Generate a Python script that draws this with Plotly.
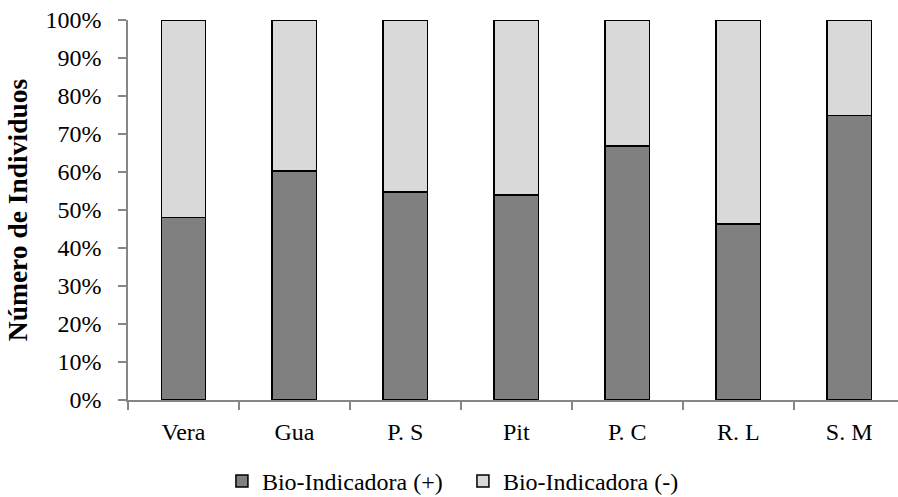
import plotly.graph_objects as go

categories = ["Vera", "Gua", "P. S", "Pit", "P. C", "R. L", "S. M"]
positivos = [48.0, 60.2, 54.8, 53.9, 66.8, 46.3, 74.9]
negativos = [100 - v for v in positivos]
series_names = ["Bio-Indicadora (+)", "Bio-Indicadora (-)"]
y_ticks = [0, 10, 20, 30, 40, 50, 60, 70, 80, 90, 100]
y_tick_labels = [f"{v}%" for v in y_ticks]

FONT = "Liberation Serif, Times New Roman, serif"

fig = go.Figure()
fig.add_trace(go.Bar(x=categories, y=positivos, name=series_names[0],
                     marker=dict(color="#808080", line=dict(color="#000000", width=1.5)),
                     width=0.4))
fig.add_trace(go.Bar(x=categories, y=negativos, name=series_names[1],
                     marker=dict(color="#d9d9d9", line=dict(color="#000000", width=1.5)),
                     width=0.4))

fig.update_layout(
    width=898, height=497,
    barmode="stack",
    plot_bgcolor="white", paper_bgcolor="white",
    margin=dict(l=128, r=0, t=20, b=97, autoexpand=False),
    font=dict(family=FONT, size=24, color="#000000"),
    showlegend=True,
    legend=dict(orientation="h", traceorder="normal",
                x=0.122, xanchor="left", xref="paper",
                y=-0.155, yanchor="top",
                font=dict(family=FONT, size=24, color="#000000"),
                entrywidth=196, entrywidthmode="pixels"),
    xaxis=dict(
        range=[-0.5, 6.44],
        showline=True, linecolor="#868686", linewidth=1.5,
        ticks="outside", tickson="boundaries", ticklen=8, tickcolor="#868686", tickwidth=1.5,
        showgrid=False, zeroline=False,
        ticklabelstandoff=9,
    ),
    yaxis=dict(
        range=[0, 100],
        tickvals=y_ticks, ticktext=y_tick_labels,
        showline=True, linecolor="#868686", linewidth=1.5,
        ticks="outside", ticklen=8, tickcolor="#868686", tickwidth=1.5,
        showgrid=False, zeroline=False,
        ticklabelstandoff=12,
        title=dict(text="<b>Número de Individuos</b>", font=dict(family=FONT, size=27.5), standoff=10),
    ),
)

fig.write_html("out.html")
